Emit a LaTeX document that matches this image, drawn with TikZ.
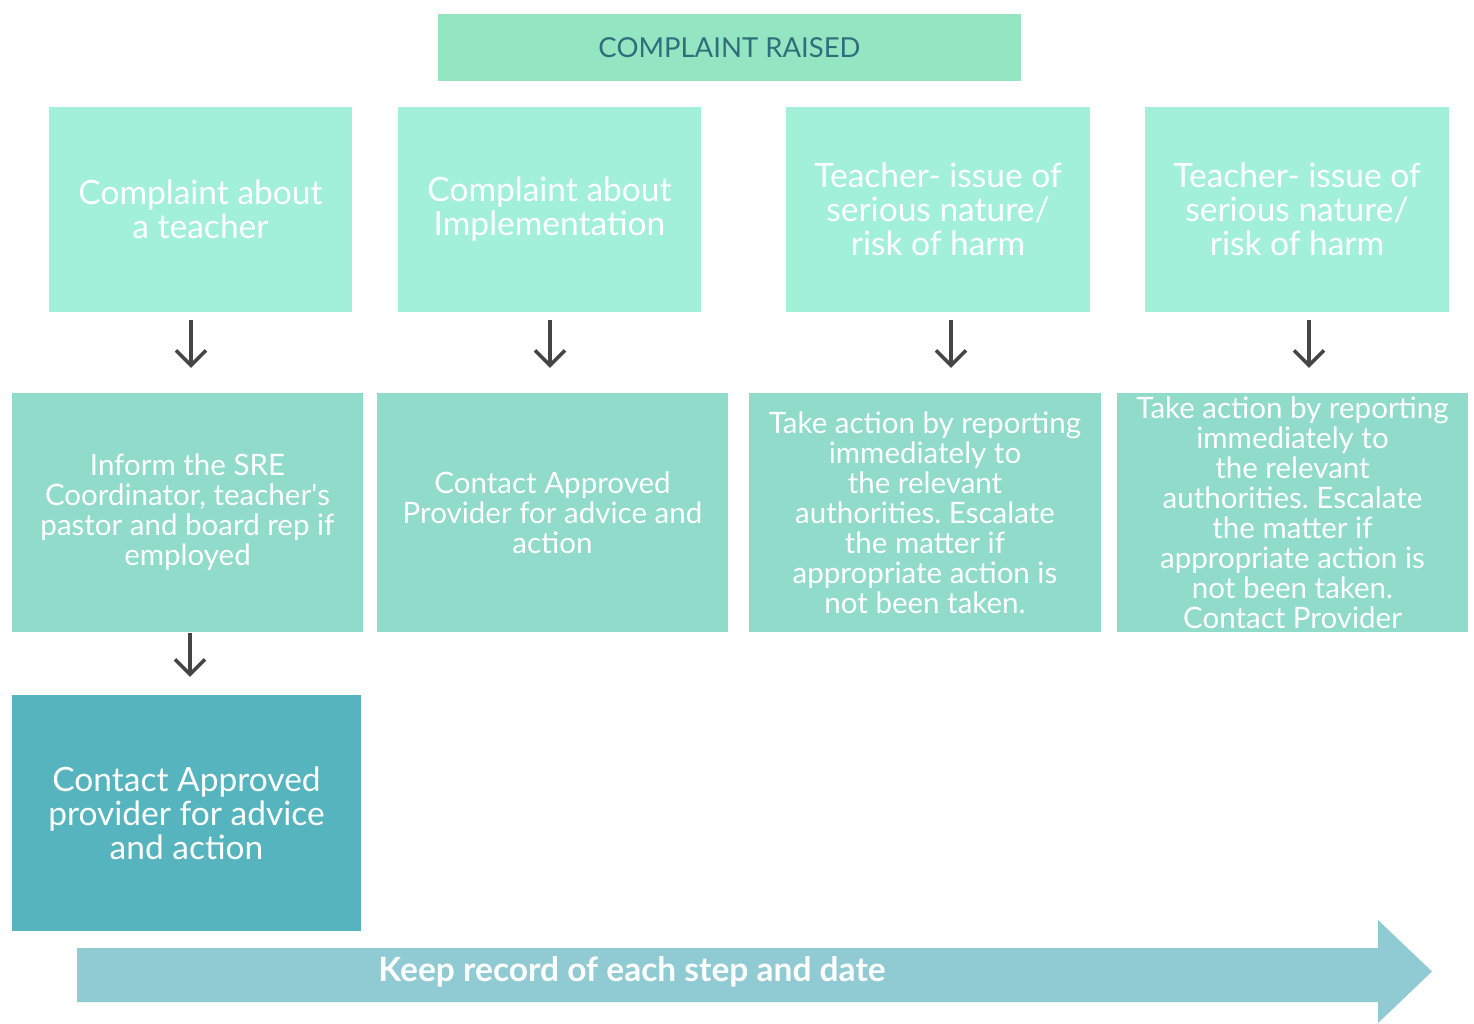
\documentclass[tikz,border=0pt]{standalone}
\usepackage{fontspec}
\setmainfont{Lato}
\usetikzlibrary{calc,positioning,arrows.meta}
\definecolor{raisedfill}{HTML}{94E5C2}
\definecolor{raisedtext}{HTML}{2F6F7C}
\definecolor{rowone}{HTML}{A3F0D9}
\definecolor{rowtwo}{HTML}{90DBCA}
\definecolor{rowthree}{HTML}{55B4BD}
\definecolor{recordfill}{HTML}{90CAD3}
\definecolor{arrowgray}{HTML}{454545}
\frenchspacing

\begin{document}
\begin{tikzpicture}[x=1pt,y=-1pt,
    box/.style={rectangle, inner sep=0pt, align=center, text=white},
    down/.style={draw=arrowgray, line width=3.5pt,
        -{Straight Barb[length=15pt,width=30pt,line width=3.5pt]}}]
    \useasboundingbox (0,0) rectangle (1474,1023);

    % Top box
    \node[box, fill=raisedfill, text=raisedtext, minimum width=583pt, minimum height=67pt,
        font=\fontsize{27.5}{30}\selectfont] (raised) at (729.5,47.5) {COMPLAINT RAISED};

    % First row of complaints
    \node[box, fill=rowone, minimum width=303pt, minimum height=205pt,
        font=\fontsize{33.5}{34}\selectfont] (a1) at (200.5,209.5) {Complaint about\\a teacher};
    \node[box, fill=rowone, minimum width=303pt, minimum height=205pt,
        font=\fontsize{33.5}{34}\selectfont] (a2) at (549.5,209.5) {Complaint about\\Implementation};
    \node[box, fill=rowone, minimum width=304pt, minimum height=205pt,
        font=\fontsize{33.5}{34}\selectfont] (a3) at (938,209.5) {Teacher- issue of\\serious nature/\\risk of harm};
    \node[box, fill=rowone, minimum width=304pt, minimum height=205pt,
        font=\fontsize{33.5}{34}\selectfont] (a4) at (1297,209.5) {Teacher- issue of\\serious nature/\\risk of harm};

    % Second row of actions
    \node[box, fill=rowtwo, minimum width=351pt, minimum height=239pt,
        font=\fontsize{29.5}{30}\selectfont] (b1) at (187.5,512.5)
        {Inform the SRE\\Coordinator, teacher\textquotesingle s\\pastor and board rep if\\employed};
    \node[box, fill=rowtwo, minimum width=351pt, minimum height=239pt,
        font=\fontsize{29.5}{30}\selectfont] (b2) at (552.5,512.5)
        {Contact Approved\\Provider for advice and\\action};
    \node[box, fill=rowtwo, minimum width=352pt, minimum height=239pt,
        font=\fontsize{29.5}{30}\selectfont] (b3) at (925,512.5)
        {Take action by reporting\\immediately to\\the relevant\\authorities. Escalate\\the matter if\\appropriate action is\\not been taken.};
    \node[box, fill=rowtwo, minimum width=351pt, minimum height=239pt,
        font=\fontsize{29.5}{30}\selectfont] (b4) at (1292.5,512.5)
        {Take action by reporting\\immediately to\\the relevant\\authorities. Escalate\\the matter if\\appropriate action is\\not been taken.\\Contact Provider};

    % Last step for a teacher
    \node[box, fill=rowthree, minimum width=349pt, minimum height=236pt,
        font=\fontsize{33.5}{34}\selectfont] (c1) at (186.5,813)
        {Contact Approved\\provider for advice\\and action};

    % Arrows between rows
    \foreach \i/\dx in {1/-9.5,2/0.5,3/13,4/12} {
        \draw[down, shorten <=8pt, shorten >=25pt]
            ([xshift=\dx pt]a\i.south) -- ([xshift=\dx pt]a\i.south |- b\i.north);
    }
    \draw[down, shorten <=1pt, shorten >=18pt]
        ([xshift=2.5pt]b1.south) -- ([xshift=2.5pt]b1.south |- c1.north);

    % Record arrow along the bottom
    \fill[recordfill] (77,948) -- (1378,948) -- (1378,920) -- (1432,971.5)
        -- (1378,1023) -- (1378,1002) -- (77,1002) -- cycle;
    \node[text=white, font=\bfseries\fontsize{33.5}{36}\selectfont] (record) at (632,972)
        {Keep record of each step and date};
\end{tikzpicture}
\end{document}
